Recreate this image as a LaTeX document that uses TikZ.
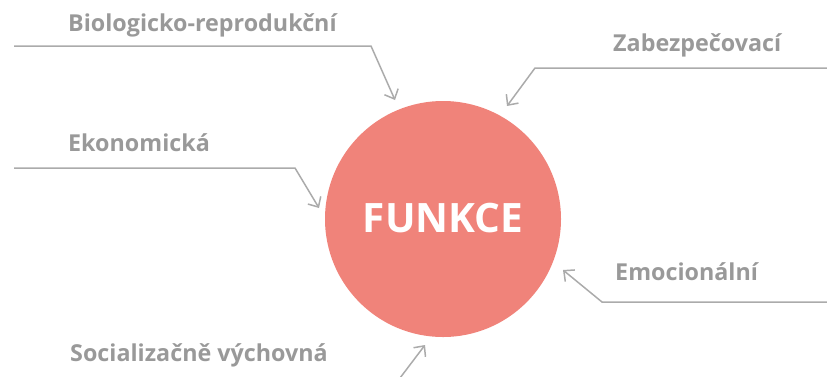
\documentclass[tikz,border=0pt]{standalone}
\usepackage{fontspec}
\setmainfont{Open Sans}
\usetikzlibrary{arrows.meta}
\definecolor{circ}{HTML}{F0837A}
\definecolor{lbl}{HTML}{999999}
\definecolor{ln}{HTML}{ABABAB}
\begin{document}
\begin{tikzpicture}[x=1pt,y=-1pt,
  lab/.style={text=lbl,font=\fontsize{23.3}{26}\selectfont\bfseries,inner sep=0pt,anchor=west},
  conn/.style={draw=ln,line width=1.5pt,-{Straight Barb[length=8pt,width=15pt,line width=1.5pt]}}]
\useasboundingbox (0,0) rectangle (827,376);
\node[circle,fill=circ,minimum size=236pt,inner sep=0pt] (c) at (443,219) {};
\node[text=white,font=\fontsize{40.5}{44}\selectfont\bfseries] (t) at (443,218) {FUNKCE};
\node[lab] (l1) at (68,25) {Biologicko-reprodukční};
\node[lab] (l2) at (613,45) {Zabezpečovací};
\node[lab] (l3) at (68,143) {Ekonomická};
\node[lab] (l4) at (615,272) {Emocionální};
\node[lab] (l5) at (70,355) {Socializačně výchovná};
\coordinate (s1) at (14,46); \coordinate (b1) at (371,46); \coordinate (e1) at (395,100);
\coordinate (s2) at (827,68); \coordinate (b2) at (535,68); \coordinate (e2) at (507,106);
\coordinate (s3) at (14,168); \coordinate (b3) at (295,168); \coordinate (e3) at (319,208);
\coordinate (s4) at (827,302); \coordinate (b4) at (602,302); \coordinate (e4) at (563,270);
\coordinate (s5) at (400,378); \coordinate (e5) at (425,345);
\draw[conn] (s1) -- (b1) -- (e1);
\draw[conn] (s2) -- (b2) -- (e2);
\draw[conn] (s3) -- (b3) -- (e3);
\draw[conn] (s4) -- (b4) -- (e4);
\draw[conn] (s5) -- (e5);
\end{tikzpicture}
\end{document}
